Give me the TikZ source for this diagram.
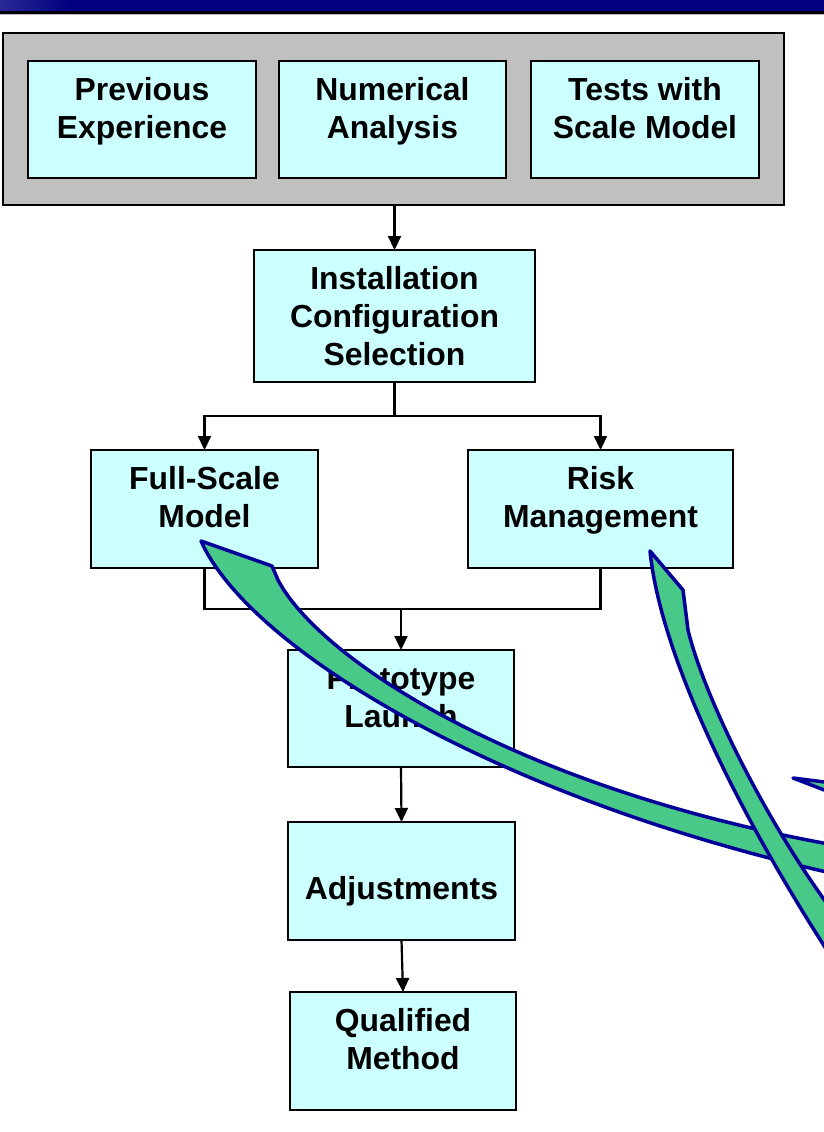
\documentclass[tikz,border=0pt]{standalone}
\usepackage{fontspec}
\setmainfont{Liberation Sans}
\usetikzlibrary{arrows.meta}
\definecolor{boxcyan}{HTML}{CCFFFF}
\definecolor{panelgray}{HTML}{C0C0C0}
\definecolor{bandnavy}{HTML}{000080}
\definecolor{bandlight}{HTML}{2A2A96}
\definecolor{arrowgreen}{HTML}{48C987}
\definecolor{arrownavy}{HTML}{000099}
\begin{document}
\begin{tikzpicture}[x=1bp,y=-1bp,
  box/.style={draw=black, line width=2.2bp, fill=boxcyan, inner sep=0pt, outer sep=0pt},
  panel/.style={draw=black, line width=2.2bp, fill=panelgray, inner sep=0pt, outer sep=0pt},
  lbl/.style={anchor=base, inner sep=0pt, font=\fontsize{32}{38.5}\selectfont\bfseries},
  conn/.style={draw=black, line width=2.2bp},
  arr/.style={conn, -{Triangle[length=14bp,width=13bp]}},
  garrow/.style={fill=arrowgreen, draw=arrownavy, line width=3.5bp, line join=round}]
\useasboundingbox (0,0) rectangle (824,1132);
\fill[white] (0,0) rectangle (824,1132);

% top band
\fill[bandnavy] (0,0) rectangle (824,11);
\shade[left color=bandlight, right color=bandnavy] (0,0) rectangle (70,11);
\fill[black] (0,11) rectangle (824,13.5);
\draw[black!25, line width=1bp] (0,14.8) -- (824,14.8);

% top panel
\node[panel, minimum width=781bp, minimum height=172bp] (panel) at (393.5,119) {};

% boxes
\node[box, minimum width=228bp, minimum height=117bp] (prev) at (142,119.5) {};
\node[box, minimum width=227bp, minimum height=117bp] (num) at (392.5,119.5) {};
\node[box, minimum width=228bp, minimum height=117bp] (tests) at (645,119.5) {};
\node[box, minimum width=281bp, minimum height=132bp] (inst) at (394.5,316) {};
\node[box, minimum width=227bp, minimum height=118bp] (full) at (204.5,509) {};
\node[box, minimum width=265bp, minimum height=118bp] (risk) at (600.5,509) {};
\node[box, minimum width=226bp, minimum height=117bp] (proto) at (401,708.5) {};
\node[box, minimum width=227bp, minimum height=118bp] (adj) at (401.5,881) {};
\node[box, minimum width=226bp, minimum height=118bp] (qual) at (403,1051) {};

% labels
\node[lbl] (prevt) at (142,100) {\parbox[t]{300bp}{\centering Previous\\Experience}};
\node[lbl] (numt) at (392.5,100) {\parbox[t]{300bp}{\centering Numerical\\Analysis}};
\node[lbl] (testst) at (645,100) {\parbox[t]{300bp}{\centering Tests with\\Scale Model}};
\node[lbl] (instt) at (394.5,289) {\parbox[t]{300bp}{\centering Installation\\Configuration\\Selection}};
\node[lbl] (fullt) at (204.5,489) {\parbox[t]{300bp}{\centering Full-Scale\\Model}};
\node[lbl] (riskt) at (600.5,489) {\parbox[t]{300bp}{\centering Risk\\Management}};
\node[lbl] (protot) at (401,689) {\parbox[t]{300bp}{\centering Prototype\\Launch}};
\node[lbl] (adjt) at (401.5,899.5) {\parbox[t]{300bp}{\centering Adjustments}};
\node[lbl] (qualt) at (403,1031) {\parbox[t]{300bp}{\centering Qualified\\Method}};

% connectors
\coordinate (split) at (394.5,416);
\coordinate (join) at (401,609);
\draw[arr] (inst.north |- panel.south) -- (inst.north);
\draw[conn] (inst.south) -- (split);
\draw[arr] (split) -| (full.north);
\draw[arr] (split) -| (risk.north);
\draw[conn] (full.south) |- (risk.south |- join) -- (risk.south);
\draw[arr] (proto.north |- join) -- (proto.north);
\draw[arr] (proto.south) -- (adj.north);
\draw[arr] (adj.south) -- (qual.north);

% green curved arrows
\begin{scope}
\clip (0,0) rectangle (824,1132);
\draw[garrow] (201,541) .. controls (250,650) and (500,800) .. (840,875)
  -- (840,846) .. controls (520,790) and (320,660) .. (278,580)
  -- (272,566) -- cycle;
\draw[garrow] (650,551) .. controls (660,650) and (730,800) .. (830,955)
  -- (840,921) .. controls (770,830) and (705,700) .. (688,630)
  -- (683,590) -- cycle;
\draw[garrow] (793,778) -- (840,784) -- (840,796) -- cycle;
\end{scope}
\end{tikzpicture}
\end{document}
